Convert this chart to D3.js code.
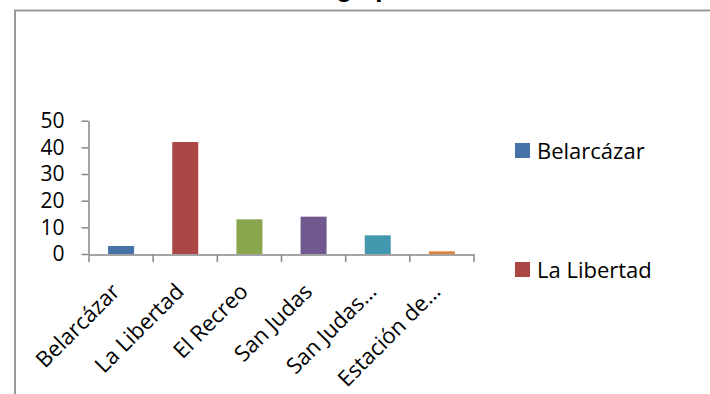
<!DOCTYPE html>
<html>
<head>
<meta charset="utf-8">
<script src="https://cdn.jsdelivr.net/npm/d3@7"></script>
<style>
  html, body { margin: 0; padding: 0; background: #fff; }
  svg { display: block; }
</style>
</head>
<body>
<svg id="chart" width="710" height="394"></svg>
<script>
const titleText = "Damnificados en zona de riesgo por inundación";
const categories = ["Belarcázar", "La Libertad", "El Recreo", "San Judas", "San Judas…", "Estación de…"];
const values = [3, 42, 13, 14, 7, 1];
const colors = ["#4572A7", "#AA4643", "#89A54E", "#71588F", "#4198AF", "#DB843D"];
const yTicks = [0, 10, 20, 30, 40, 50];
const legendItems = ["Belarcázar", "La Libertad"];

const svg = d3.select("#chart");
const font = "'Open Sans', sans-serif";

// frame
svg.append("path")
  .attr("d", "M15,400 L15,10.5 L720,10.5")
  .attr("fill", "none").attr("stroke", "#999").attr("stroke-width", 2);

// title (clipped at top, only descenders show)
svg.append("text")
  .attr("x", 563).attr("y", -3)
  .attr("text-anchor", "end")
  .attr("font-family", "'Liberation Sans', Arial, sans-serif")
  .attr("font-weight", "bold").attr("font-size", 26)
  .attr("fill", "#000")
  .text(titleText);

const x = d3.scaleBand().domain(categories).range([89, 474]).paddingInner(0).paddingOuter(0);
const y = d3.scaleLinear().domain([0, 50]).range([254, 120.7]);
const barW = x.bandwidth() * 0.405;

svg.append("g").selectAll("rect").data(values).join("rect")
  .attr("x", (d, i) => x(categories[i]) + x.bandwidth() / 2 - barW / 2)
  .attr("y", d => y(d))
  .attr("width", barW)
  .attr("height", d => y(0) - y(d))
  .attr("fill", (d, i) => colors[i]);

// y axis
const yAxis = svg.append("g").attr("transform", "translate(88.5,0)")
  .call(d3.axisLeft(y).tickValues(yTicks).tickSize(7).tickPadding(17).tickSizeOuter(0));
yAxis.select(".domain").attr("stroke", "#868686").attr("stroke-width", 1.5);
yAxis.selectAll(".tick line").attr("stroke", "#868686").attr("stroke-width", 1.5);
yAxis.selectAll(".tick text").attr("font-family", font).attr("font-size", 21).attr("fill", "#000");

// x axis
const xAxis = svg.append("g").attr("transform", "translate(0,254.5)")
  .call(d3.axisBottom(x).tickSize(0).tickSizeOuter(0).tickFormat(""));
xAxis.select(".domain").attr("stroke", "#868686").attr("stroke-width", 1.5);
xAxis.selectAll(".tick").remove();
const bounds = categories.map(c => x(c)).concat([x.range()[1]]);
svg.append("g").selectAll("line").data(bounds).join("line")
  .attr("x1", d => d).attr("x2", d => d)
  .attr("y1", 254.5).attr("y2", 262)
  .attr("stroke", "#868686").attr("stroke-width", 1.5);

svg.append("g").selectAll("text").data(categories).join("text")
  .attr("transform", d => `translate(${x(d) + x.bandwidth() / 2},${293}) rotate(-45)`)
  .attr("text-anchor", "end")
  .attr("font-family", font).attr("font-size", 22).attr("fill", "#000")
  .text(d => d);

// legend
const leg = svg.append("g").selectAll("g").data(legendItems).join("g")
  .attr("transform", (d, i) => `translate(515,${143 + i * 119})`);
leg.append("rect").attr("width", 15).attr("height", 15).attr("fill", (d, i) => colors[i]);
leg.append("text").attr("x", 22).attr("y", 15.5)
  .attr("font-family", font).attr("font-size", 22).attr("fill", "#000")
  .text(d => d);
</script>
</body>
</html>
